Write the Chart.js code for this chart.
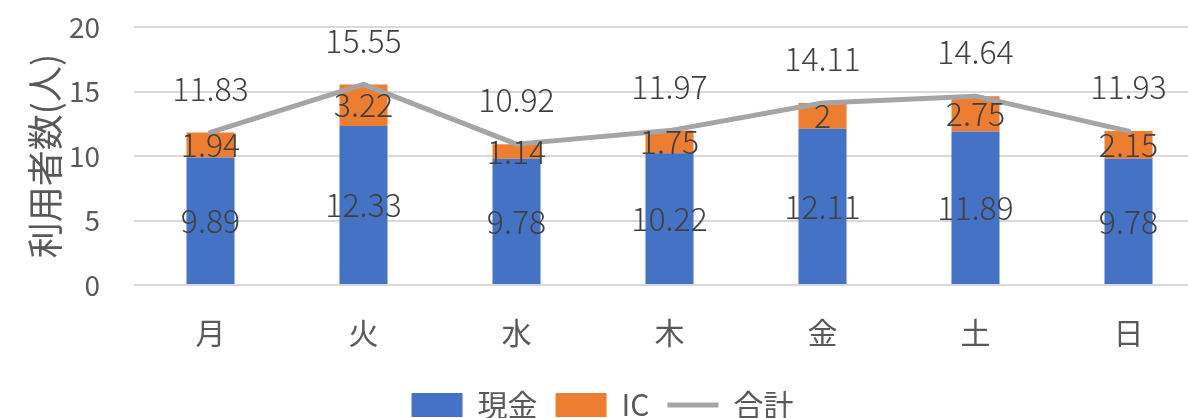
<!DOCTYPE html>
<html>
<head>
<meta charset="utf-8">
<script src="https://cdn.jsdelivr.net/npm/chart.js@4/dist/chart.umd.min.js"></script>
<style>
  html, body { margin: 0; padding: 0; background: #fff; overflow: hidden; }
  canvas { display: block; }
</style>
</head>
<body>
<canvas id="usageChart" width="1210" height="430"></canvas>
<script>
const days = ["月", "火", "水", "木", "金", "土", "日"];
const cash = [9.89, 12.33, 9.78, 10.22, 12.11, 11.89, 9.78];
const ic = [1.94, 3.22, 1.14, 1.75, 2, 2.75, 2.15];
const total = [11.83, 15.55, 10.92, 11.97, 14.11, 14.64, 11.93];
const yTicks = [0, 5, 10, 15, 20];

const jpFont = "'Noto Sans CJK JP', 'Noto Sans', sans-serif";

// draws the value labels (bars: centered, line: above)
const valueLabels = {
  id: "valueLabels",
  afterDatasetsDraw(chart) {
    const ctx = chart.ctx;
    ctx.save();
    ctx.font = "300 32px " + jpFont;
    ctx.fillStyle = "#404040";
    ctx.textAlign = "center";
    ctx.textBaseline = "middle";
    chart.data.datasets.forEach(function (ds, i) {
      const meta = chart.getDatasetMeta(i);
      meta.data.forEach(function (el, j) {
        const text = String(ds.data[j]);
        if (meta.type === "bar") {
          ctx.fillText(text, el.x, (el.y + el.base) / 2);
        } else {
          ctx.fillText(text, el.x, el.y - 44);
        }
      });
    });
    ctx.restore();
  }
};

const ctx = document.getElementById("usageChart").getContext("2d");
new Chart(ctx, {
  data: {
    labels: days,
    datasets: [
      {
        type: "bar",
        label: "現金",
        data: cash,
        backgroundColor: "#4472C4",
        pointStyle: "rect",
        order: 1,
        stack: "bars"
      },
      {
        type: "bar",
        label: "IC",
        data: ic,
        backgroundColor: "#ED7D31",
        pointStyle: "rect",
        order: 1,
        stack: "bars"
      },
      {
        type: "line",
        label: "合計",
        data: total,
        borderColor: "#A5A5A5",
        backgroundColor: "#A5A5A5",
        borderWidth: 5,
        borderCapStyle: "round",
        borderJoinStyle: "round",
        pointRadius: 0,
        pointStyle: "line",
        tension: 0,
        order: 0,
        stack: "total"
      }
    ]
  },
  options: {
    responsive: false,
    animation: false,
    datasets: {
      bar: { categoryPercentage: 1, barPercentage: 0.314 }
    },
    layout: { padding: { top: 27, right: 5, left: 0, bottom: 0 } },
    scales: {
      x: {
        stacked: true,
        grid: { display: false },
        border: { display: false },
        ticks: { color: "#595959", font: { family: jpFont, size: 30 }, padding: 22 },
        afterFit(scale) { scale.height = 87; }
      },
      y: {
        stacked: true,
        min: 0,
        max: 20,
        afterBuildTicks(scale) { scale.ticks = yTicks.map(function (v) { return { value: v }; }); },
        grid: { color: "#D9D9D9", lineWidth: 2, drawTicks: false },
        border: { display: false },
        ticks: { color: "#595959", font: { family: jpFont, size: 28 }, padding: 34 },
        title: {
          display: true,
          text: "利用者数(人)",
          color: "#595959",
          font: { family: jpFont, size: 36 },
          padding: { top: 24, bottom: 0 }
        },
        afterFit(scale) {
          scale.width = 134;
          scale.paddingTop = 0;
          scale.paddingBottom = 0;
        }
      }
    },
    plugins: {
      legend: {
        position: "bottom",
        labels: {
          usePointStyle: true,
          pointStyleWidth: 51,
          boxHeight: 24,
          color: "#595959",
          font: { family: jpFont, size: 30 },
          padding: 18,
          sort(a, b) { return a.datasetIndex - b.datasetIndex; }
        }
      },
      tooltip: { enabled: false }
    }
  },
  plugins: [valueLabels]
});
</script>
</body>
</html>
